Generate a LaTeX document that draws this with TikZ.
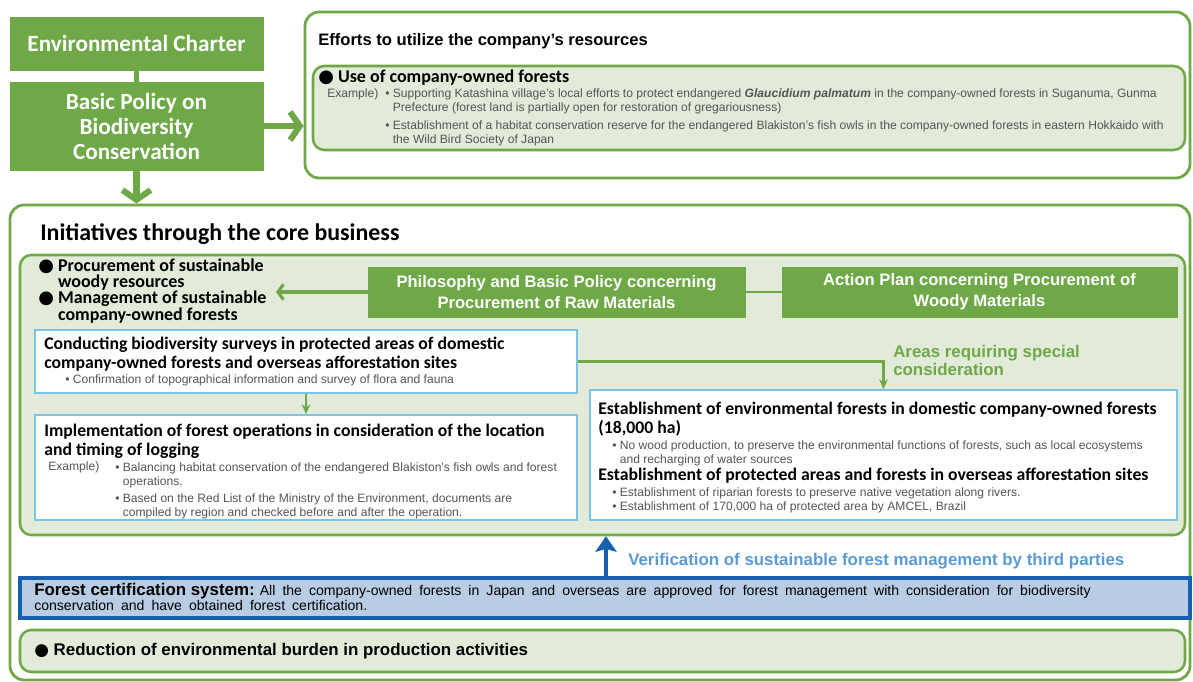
\documentclass[tikz,border=0pt]{standalone}
\usepackage{fontspec}
\setmainfont{Liberation Sans}
\newfontfamily\hdfont{Carlito}
\newfontfamily\dotfont{DejaVu Sans}
\usetikzlibrary{arrows.meta,fit}
\definecolor{grn}{HTML}{6EA847}
\definecolor{lgrn}{HTML}{E2EBD9}
\definecolor{cyanbd}{HTML}{7BC6E6}
\definecolor{certfill}{HTML}{B8CCE4}
\definecolor{certbd}{HTML}{1660AE}
\definecolor{verlight}{HTML}{5B9BD5}
\definecolor{txtgray}{HTML}{555555}
\newcommand{\fdot}{{\dotfont ●}}
\begin{document}
\begin{tikzpicture}[x=0.025cm, y=-0.025cm,
  greenbox/.style={draw=grn, fill=grn, text=white, inner sep=0, align=center},
  panel/.style={draw=grn, line width=2pt, rounded corners=10pt, fill=white, inner sep=0},
  subpanel/.style={draw=grn, line width=1.8pt, rounded corners=8pt, fill=lgrn, inner sep=0},
  whitebox/.style={draw=cyanbd, line width=1.1pt, fill=white, inner sep=0},
  certbox/.style={draw=certbd, line width=2.4pt, fill=certfill, inner sep=0},
  txt/.style={inner sep=0, align=left},
  head/.style={txt, font=\hdfont\bfseries\fontsize{12.6}{13.2}\selectfont},
  small/.style={txt, text=txtgray, font=\fontsize{8.6}{10}\selectfont},
  bigarrow/.style={draw=grn, line width=4.3pt, -{Straight Barb[length=7pt,width=20pt]}},
  midarrow/.style={draw=grn, line width=2.2pt, -{Straight Barb[length=4pt,width=11pt]}},
  thinarrow/.style={draw=grn, line width=1.8pt, -{Stealth[length=7pt,width=6pt]}},
  bluearrow/.style={draw=certbd, line width=3pt, -{Stealth[length=11pt,width=15pt,inset=2pt]}}]
  \useasboundingbox[fill=white] (0,0) rectangle (1193,682);

  \node[greenbox, minimum width=6.325cm, minimum height=1.325cm, font=\hdfont\bfseries\fontsize{16.5}{18}\selectfont] (envc) at (136.5,43.5) {Environmental Charter};
  \node[greenbox, minimum width=6.325cm, minimum height=2.2cm, font=\hdfont\bfseries\fontsize{16.5}{17.8}\selectfont] (basic) at (136.5,126) {Basic Policy on\\Biodiversity\\Conservation};

  \node[panel, fit={(305,12) (1190,178)}] (efforts) {};
  \node[subpanel, fit={(313,66) (1185,150)}] (forests) {};
  \node[txt, anchor=west, font=\bfseries\fontsize{11.8}{13}\selectfont] (efftitle) at (318,41) {Efforts to utilize the company’s resources};
  \node[head, anchor=west, font=\hdfont\bfseries\fontsize{12.8}{14}\selectfont] (forhead) at (318,78) {\fdot\ Use of company-owned forests};
  \node[small, anchor=west] (forex) at (327,94) {Example)};
  \node[small, anchor=north west] (forlist) at (385,88.5) {• Supporting Katashina village’s local efforts to protect endangered \textbf{\textit{Glaucidium palmatum}} in the company-owned forests in Suganuma, Gunma\\\phantom{• }Prefecture (forest land is partially open for restoration of gregariousness)\\[3pt]• Establishment of a habitat conservation reserve for the endangered Blakiston’s fish owls in the company-owned forests in eastern Hokkaido with\\\phantom{• }the Wild Bird Society of Japan};

  \node[panel, fit={(10,205) (1190,680)}] (init) {};
  \node[subpanel, fit={(20,255) (1185,535)}] (core) {};
  \node[txt, anchor=west, font=\hdfont\bfseries\fontsize{17}{18}\selectfont] (inittitle) at (40,234) {Initiatives through the core business};
  \node[head, anchor=north west, font=\hdfont\bfseries\fontsize{12.8}{11.4}\selectfont] (procbul) at (38,259) {\fdot\ Procurement of sustainable\\\phantom{\fdot\ }woody resources\\\fdot\ Management of sustainable\\\phantom{\fdot\ }company-owned forests};
  \node[greenbox, minimum width=9.425cm, minimum height=1.25cm, font=\bfseries\fontsize{11.8}{15}\selectfont] (phil) at (556.5,292) {Philosophy and Basic Policy concerning\\Procurement of Raw Materials};
  \node[greenbox, minimum width=9.875cm, minimum height=1.25cm, font=\bfseries\fontsize{11.8}{15}\selectfont] (action) at (979.5,292) {Action Plan concerning Procurement of\\Woody Materials};
  \coordinate (procend) at (276,292);

  \node[whitebox, fit={(35,330) (577,393)}] (survey) {};
  \node[head, anchor=north west] (surveyhead) at (44,337) {Conducting biodiversity surveys in protected areas of domestic\\company-owned forests and overseas afforestation sites};
  \node[small, anchor=west] (surveylist) at (65,380) {• Confirmation of topographical information and survey of flora and fauna};

  \node[whitebox, fit={(35,415) (577,520)}] (impl) {};
  \node[head, anchor=north west] (implhead) at (44,424) {Implementation of forest operations in consideration of the location\\and timing of logging};
  \node[small, anchor=west] (implex) at (48,467) {Example)};
  \node[small, anchor=north west] (impllist) at (115,462.5) {• Balancing habitat conservation of the endangered Blakiston’s fish owls and forest\\\phantom{• }operations.\\[2pt]• Based on the Red List of the Ministry of the Environment, documents are\\\phantom{• }compiled by region and checked before and after the operation.};

  \node[whitebox, fit={(590,390) (1177,520)}] (estab) {};
  \node[head, anchor=north west] (estabhead) at (598,402) {Establishment of environmental forests in domestic company-owned forests\\(18,000 ha)};
  \node[small, anchor=north west] (establist) at (612,440.5) {• No wood production, to preserve the environmental functions of forests, such as local ecosystems\\\phantom{• }and recharging of water sources};
  \node[head, anchor=west] (overhead) at (598,476) {Establishment of protected areas and forests in overseas afforestation sites};
  \node[small, anchor=north west] (overlist) at (612,487.5) {• Establishment of riparian forests to preserve native vegetation along rivers.\\• Establishment of 170,000 ha of protected area by AMCEL, Brazil};
  \node[txt, anchor=north west, text=grn, font=\bfseries\fontsize{12}{13}\selectfont] (areas) at (893,345) {Areas requiring special\\consideration};

  \node[certbox, fit={(20,578) (1190,618)}] (cert) {};
  \node[txt, anchor=north west, font=\fontsize{10}{10.7}\selectfont] (certtext) at (34,583) {{\bfseries\fontsize{12}{10.7}\selectfont Forest certification system:} {\spaceskip=0.5em All the company-owned forests in Japan and overseas are approved for forest management with consideration for biodiversity}\\{\spaceskip=0.5em conservation and have obtained forest certification.}};
  \node[txt, anchor=west, text=verlight, font=\bfseries\fontsize{12}{13}\selectfont] (verif) at (628,561) {Verification of sustainable forest management by third parties};
  \coordinate (vbase) at ([xshift=-0.55cm]verif.west);

  \node[subpanel, fit={(20,630) (1185,672)}] (reduce) {};
  \node[txt, anchor=west, font=\bfseries\fontsize{12}{13}\selectfont] (reducetext) at (34,651) {\fdot\ Reduction of environmental burden in production activities};

  \draw[grn, line width=3pt] (envc) -- (basic);
  \draw[bigarrow] (basic.east) -- (basic.east -| efforts.west);
  \draw[bigarrow] (basic) -- (basic |- init.north);
  \draw[grn, line width=1.5pt] (phil) -- (action);
  \draw[midarrow] (phil.west) -- (procend);
  \draw[thinarrow] (survey) -- (impl);
  \draw[thinarrow] (survey.east) -| (estab.north);
  \draw[bluearrow] (vbase |- cert.north) -- (vbase |- core.south);
\end{tikzpicture}
\end{document}
